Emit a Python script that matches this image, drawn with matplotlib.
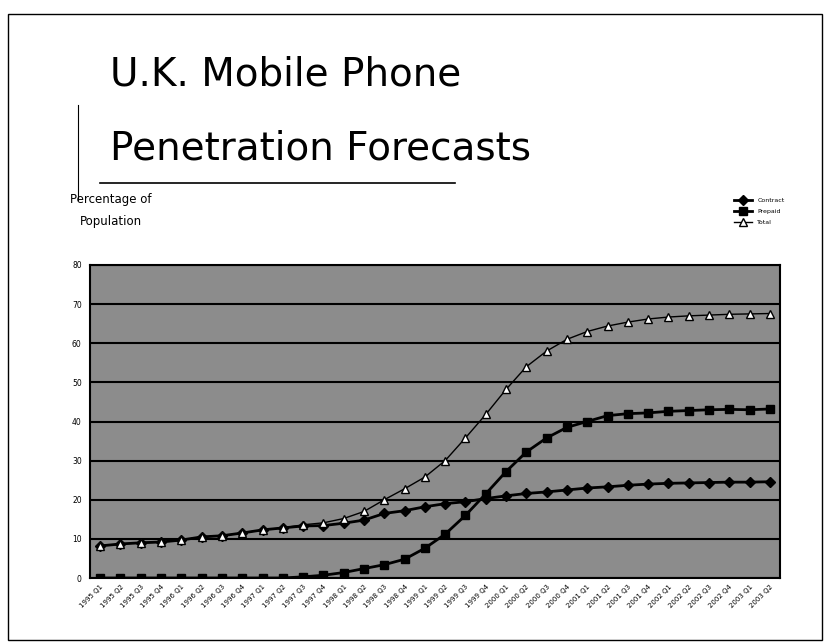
import numpy as np
import matplotlib.pyplot as plt
from matplotlib.patches import Rectangle
from matplotlib.lines import Line2D

quarters = [f"{y} Q{q}" for y in range(1995, 2004) for q in range(1, 5)][:34]

contract = [8.2, 8.7, 9.0, 9.2, 9.7, 10.5, 10.8, 11.5, 12.3, 12.8, 13.3, 13.4,
            14.0, 14.8, 16.5, 17.2, 18.2, 19.0, 19.5, 20.3, 21.0, 21.6, 22.0, 22.5,
            23.0, 23.3, 23.7, 24.0, 24.2, 24.3, 24.4, 24.5, 24.5, 24.6]
prepaid = [0, 0, 0, 0, 0, 0, 0, 0, 0, 0, 0.3, 0.7,
           1.4, 2.4, 3.4, 4.8, 7.6, 11.2, 16.0, 21.5, 27.2, 32.2, 35.8, 38.5,
           40.0, 41.5, 42.0, 42.2, 42.6, 42.8, 43.0, 43.1, 43.0, 43.2]
total = [8.2, 8.7, 9.0, 9.2, 9.7, 10.5, 10.8, 11.5, 12.3, 12.8, 13.6, 14.1,
         15.2, 17.0, 20.0, 22.8, 25.8, 30.0, 35.8, 41.8, 48.2, 54.0, 58.0, 61.0,
         63.0, 64.4, 65.4, 66.2, 66.7, 67.0, 67.2, 67.4, 67.5, 67.6]

fig = plt.figure(figsize=(8.25, 6.44), dpi=100)

# slide frame
fig.add_artist(Rectangle((8 / 825, 4 / 644), 814 / 825, 626 / 644, transform=fig.transFigure,
                         fill=False, ec='black', lw=1))

fig.text(110 / 825, 1 - 85 / 644, "U.K. Mobile Phone", fontsize=28, va='baseline', ha='left')
fig.text(110 / 825, 1 - 160 / 644, "Penetration Forecasts", fontsize=28, va='baseline', ha='left')
fig.add_artist(Line2D([100 / 825, 455 / 825], [1 - 183 / 644, 1 - 183 / 644],
                      transform=fig.transFigure, color='black', lw=1.2))
fig.add_artist(Line2D([78 / 825, 78 / 825], [1 - 105 / 644, 1 - 200 / 644],
                      transform=fig.transFigure, color='black', lw=0.8))

fig.text(70 / 825, 1 - 200 / 644, "Percentage of", fontsize=8.5, va='center', ha='left')
fig.text(80 / 825, 1 - 222 / 644, "Population", fontsize=8.5, va='center', ha='left')

ax = fig.add_axes([90 / 825, 1 - 578 / 644, 690 / 825, 313 / 644])
ax.set_facecolor('#8c8c8c')
x = np.arange(len(quarters))

ax.plot(x, contract, color='black', lw=2, marker='D', ms=5, mfc='black', mec='black', label='Contract', zorder=4)
ax.plot(x, prepaid, color='black', lw=2, marker='s', ms=5.5, mfc='black', mec='black', label='Prepaid', zorder=4)
ax.plot(x, total, color='black', lw=1, marker='^', ms=6, mfc='white', mec='black', label='Total', zorder=5)

ax.set_xlim(-0.5, len(quarters) - 0.5)
ax.set_ylim(0, 80)
ax.set_yticks(range(0, 81, 10))
ax.yaxis.grid(True, color='black', lw=1.5)
ax.set_axisbelow(True)
ax.set_xticks(x)
ax.set_xticklabels(quarters, rotation=45, ha='right', rotation_mode='anchor', fontsize=5)
ax.tick_params(axis='y', labelsize=5.5, length=0, pad=6)
ax.tick_params(axis='x', length=0, pad=4)
for s in ax.spines.values():
    s.set_linewidth(1.5)

leg = fig.legend(loc='upper left', bbox_to_anchor=(728 / 825, 1 - 192 / 644), fontsize=4.5,
                 frameon=False, handlelength=3, labelspacing=0.9)

fig.savefig('out.png', dpi=100)
